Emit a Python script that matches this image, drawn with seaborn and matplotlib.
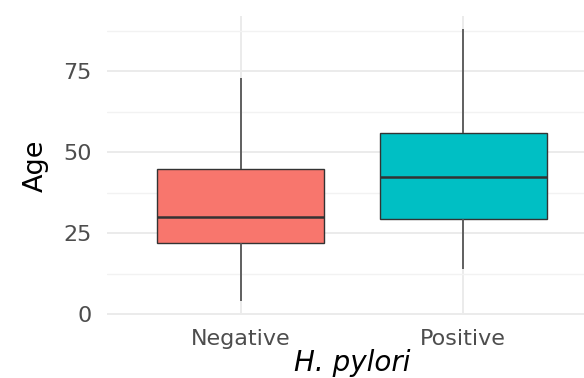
import numpy as np
import pandas as pd
import seaborn as sns
import matplotlib.pyplot as plt
from matplotlib.ticker import MultipleLocator

# five-number summaries (min, Q1, median, Q3, max)
negative_age = [4, 22, 30, 45, 73]
positive_age = [14, 29.5, 42.5, 56, 88]
groups = ["Negative", "Positive"]
colors = ["#F8766D", "#00BFC4"]

df = pd.DataFrame({
    "H. pylori": [groups[0]] * len(negative_age) + [groups[1]] * len(positive_age),
    "Age": negative_age + positive_age,
})

sns.set_style("white")
plt.rcParams["font.family"] = ["DejaVu Sans"]

fig = plt.figure(figsize=(5.84, 3.78), dpi=100)
ax = fig.add_axes([0.183, 0.1675, 0.839, 0.7905])

sns.boxplot(data=df, x="H. pylori", y="Age", hue="H. pylori",
            palette=colors, order=groups, hue_order=groups, saturation=1,
            width=0.75, whis=1.5, showcaps=False, showfliers=False,
            linecolor="#333333", linewidth=1.0,
            medianprops={"linewidth": 1.8, "color": "#333333"},
            whiskerprops={"linewidth": 1.3, "color": "#555555"},
            legend=False, ax=ax, zorder=3)

ax.set_xlim(-0.6, 1.6)
ax.set_ylim(-0.2, 92.2)
ax.yaxis.set_major_locator(MultipleLocator(25))
ax.yaxis.set_minor_locator(MultipleLocator(12.5))
ax.grid(True, which="major", color="#EBEBEB", linewidth=1.4, zorder=0)
ax.grid(True, which="minor", axis="y", color="#F2F2F2", linewidth=1.0, zorder=0)
ax.set_axisbelow(True)
for s in ax.spines.values():
    s.set_visible(False)

ax.tick_params(axis="both", which="both", length=0, labelsize=16, labelcolor="#4D4D4D")
ax.tick_params(axis="y", pad=11)
ax.tick_params(axis="x", pad=10)
ax.set_ylabel("Age", fontsize=19.5, color="black", labelpad=10)
ax.set_xlabel("H. pylori", fontsize=20, color="black", style="italic", labelpad=0)

fig.savefig("out.png", dpi=100)
